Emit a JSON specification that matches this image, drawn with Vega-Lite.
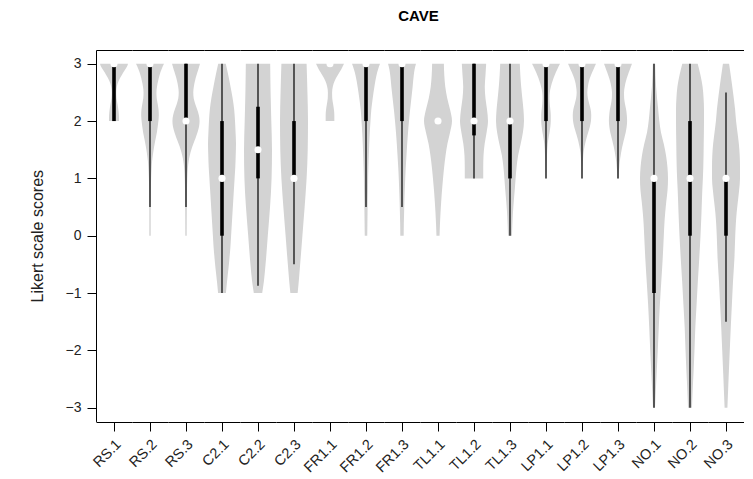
{
  "$schema": "https://vega.github.io/schema/vega-lite/v6.json",
  "padding": {"left": 29, "top": 9, "right": 0, "bottom": 0},
  "title": {"text": "CAVE", "font": "Liberation Sans", "fontSize": 15, "fontWeight": "bold", "color": "#000", "anchor": "middle", "offset": 26, "dx": 32},
  "config": {"view": {"stroke": null}, "font": "Liberation Sans"},
  "data": {"values": [
    {"item":"RS.1","score":3.0,"density":1.0},{"item":"RS.1","score":2.95,"density":0.93},{"item":"RS.1","score":2.9,"density":0.8},{"item":"RS.1","score":2.8,"density":0.55},{"item":"RS.1","score":2.7,"density":0.33},{"item":"RS.1","score":2.6,"density":0.2},{"item":"RS.1","score":2.5,"density":0.16},{"item":"RS.1","score":2.4,"density":0.18},{"item":"RS.1","score":2.3,"density":0.25},{"item":"RS.1","score":2.2,"density":0.31},{"item":"RS.1","score":2.1,"density":0.35},{"item":"RS.1","score":2.0,"density":0.36},
    {"item":"RS.2","score":3.0,"density":1.0},{"item":"RS.2","score":2.9,"density":0.82},{"item":"RS.2","score":2.8,"density":0.68},{"item":"RS.2","score":2.7,"density":0.58},{"item":"RS.2","score":2.6,"density":0.5},{"item":"RS.2","score":2.5,"density":0.46},{"item":"RS.2","score":2.4,"density":0.48},{"item":"RS.2","score":2.3,"density":0.55},{"item":"RS.2","score":2.2,"density":0.61},{"item":"RS.2","score":2.1,"density":0.63},{"item":"RS.2","score":2.0,"density":0.6},{"item":"RS.2","score":1.9,"density":0.55},{"item":"RS.2","score":1.8,"density":0.49},{"item":"RS.2","score":1.7,"density":0.41},{"item":"RS.2","score":1.6,"density":0.33},{"item":"RS.2","score":1.5,"density":0.26},{"item":"RS.2","score":1.4,"density":0.2},{"item":"RS.2","score":1.3,"density":0.15},{"item":"RS.2","score":1.2,"density":0.12},{"item":"RS.2","score":1.0,"density":0.08},{"item":"RS.2","score":0.8,"density":0.06},{"item":"RS.2","score":0.5,"density":0.05},{"item":"RS.2","score":0.0,"density":0.05},
    {"item":"RS.3","score":3.0,"density":1.0},{"item":"RS.3","score":2.9,"density":0.88},{"item":"RS.3","score":2.8,"density":0.75},{"item":"RS.3","score":2.7,"density":0.64},{"item":"RS.3","score":2.6,"density":0.56},{"item":"RS.3","score":2.5,"density":0.52},{"item":"RS.3","score":2.4,"density":0.55},{"item":"RS.3","score":2.3,"density":0.66},{"item":"RS.3","score":2.2,"density":0.8},{"item":"RS.3","score":2.1,"density":0.92},{"item":"RS.3","score":2.0,"density":0.97},{"item":"RS.3","score":1.9,"density":0.93},{"item":"RS.3","score":1.8,"density":0.82},{"item":"RS.3","score":1.7,"density":0.68},{"item":"RS.3","score":1.6,"density":0.52},{"item":"RS.3","score":1.5,"density":0.38},{"item":"RS.3","score":1.4,"density":0.27},{"item":"RS.3","score":1.3,"density":0.19},{"item":"RS.3","score":1.2,"density":0.14},{"item":"RS.3","score":1.0,"density":0.09},{"item":"RS.3","score":0.8,"density":0.07},{"item":"RS.3","score":0.5,"density":0.06},{"item":"RS.3","score":0.0,"density":0.05},
    {"item":"C2.1","score":3.0,"density":0.27},{"item":"C2.1","score":2.8,"density":0.45},{"item":"C2.1","score":2.6,"density":0.61},{"item":"C2.1","score":2.4,"density":0.76},{"item":"C2.1","score":2.2,"density":0.87},{"item":"C2.1","score":2.0,"density":0.93},{"item":"C2.1","score":1.8,"density":0.97},{"item":"C2.1","score":1.6,"density":1.0},{"item":"C2.1","score":1.4,"density":0.98},{"item":"C2.1","score":1.2,"density":0.95},{"item":"C2.1","score":1.0,"density":0.9},{"item":"C2.1","score":0.8,"density":0.85},{"item":"C2.1","score":0.6,"density":0.8},{"item":"C2.1","score":0.4,"density":0.75},{"item":"C2.1","score":0.2,"density":0.7},{"item":"C2.1","score":0.0,"density":0.65},{"item":"C2.1","score":-0.2,"density":0.6},{"item":"C2.1","score":-0.4,"density":0.53},{"item":"C2.1","score":-0.6,"density":0.45},{"item":"C2.1","score":-0.8,"density":0.36},{"item":"C2.1","score":-1.0,"density":0.28},
    {"item":"C2.2","score":3.0,"density":0.87},{"item":"C2.2","score":2.5,"density":0.9},{"item":"C2.2","score":2.0,"density":0.95},{"item":"C2.2","score":1.5,"density":1.0},{"item":"C2.2","score":1.0,"density":0.97},{"item":"C2.2","score":0.5,"density":0.86},{"item":"C2.2","score":0.0,"density":0.7},{"item":"C2.2","score":-0.5,"density":0.54},{"item":"C2.2","score":-0.8,"density":0.42},{"item":"C2.2","score":-1.0,"density":0.3},
    {"item":"C2.3","score":3.0,"density":0.9},{"item":"C2.3","score":2.5,"density":0.96},{"item":"C2.3","score":2.0,"density":1.0},{"item":"C2.3","score":1.5,"density":0.98},{"item":"C2.3","score":1.0,"density":0.9},{"item":"C2.3","score":0.5,"density":0.76},{"item":"C2.3","score":0.0,"density":0.6},{"item":"C2.3","score":-0.5,"density":0.44},{"item":"C2.3","score":-0.8,"density":0.34},{"item":"C2.3","score":-1.0,"density":0.26},
    {"item":"FR1.1","score":3.0,"density":1.0},{"item":"FR1.1","score":2.9,"density":0.8},{"item":"FR1.1","score":2.8,"density":0.55},{"item":"FR1.1","score":2.7,"density":0.33},{"item":"FR1.1","score":2.6,"density":0.2},{"item":"FR1.1","score":2.5,"density":0.15},{"item":"FR1.1","score":2.4,"density":0.16},{"item":"FR1.1","score":2.3,"density":0.22},{"item":"FR1.1","score":2.2,"density":0.28},{"item":"FR1.1","score":2.1,"density":0.31},{"item":"FR1.1","score":2.0,"density":0.31},
    {"item":"FR1.2","score":3.0,"density":1.0},{"item":"FR1.2","score":2.9,"density":0.86},{"item":"FR1.2","score":2.8,"density":0.75},{"item":"FR1.2","score":2.6,"density":0.6},{"item":"FR1.2","score":2.4,"density":0.48},{"item":"FR1.2","score":2.2,"density":0.38},{"item":"FR1.2","score":2.0,"density":0.32},{"item":"FR1.2","score":1.8,"density":0.27},{"item":"FR1.2","score":1.6,"density":0.23},{"item":"FR1.2","score":1.4,"density":0.2},{"item":"FR1.2","score":1.2,"density":0.17},{"item":"FR1.2","score":1.0,"density":0.15},{"item":"FR1.2","score":0.8,"density":0.14},{"item":"FR1.2","score":0.6,"density":0.12},{"item":"FR1.2","score":0.4,"density":0.11},{"item":"FR1.2","score":0.2,"density":0.1},{"item":"FR1.2","score":0.0,"density":0.09},
    {"item":"FR1.3","score":3.0,"density":1.0},{"item":"FR1.3","score":2.9,"density":0.9},{"item":"FR1.3","score":2.8,"density":0.84},{"item":"FR1.3","score":2.6,"density":0.76},{"item":"FR1.3","score":2.4,"density":0.67},{"item":"FR1.3","score":2.2,"density":0.58},{"item":"FR1.3","score":2.0,"density":0.5},{"item":"FR1.3","score":1.8,"density":0.43},{"item":"FR1.3","score":1.6,"density":0.37},{"item":"FR1.3","score":1.4,"density":0.32},{"item":"FR1.3","score":1.2,"density":0.27},{"item":"FR1.3","score":1.0,"density":0.23},{"item":"FR1.3","score":0.8,"density":0.2},{"item":"FR1.3","score":0.6,"density":0.17},{"item":"FR1.3","score":0.4,"density":0.15},{"item":"FR1.3","score":0.2,"density":0.13},{"item":"FR1.3","score":0.0,"density":0.12},
    {"item":"TL1.1","score":3.0,"density":0.42},{"item":"TL1.1","score":2.8,"density":0.45},{"item":"TL1.1","score":2.6,"density":0.52},{"item":"TL1.1","score":2.4,"density":0.66},{"item":"TL1.1","score":2.2,"density":0.86},{"item":"TL1.1","score":2.0,"density":1.0},{"item":"TL1.1","score":1.8,"density":0.86},{"item":"TL1.1","score":1.6,"density":0.67},{"item":"TL1.1","score":1.4,"density":0.54},{"item":"TL1.1","score":1.2,"density":0.44},{"item":"TL1.1","score":1.0,"density":0.36},{"item":"TL1.1","score":0.8,"density":0.29},{"item":"TL1.1","score":0.6,"density":0.23},{"item":"TL1.1","score":0.4,"density":0.18},{"item":"TL1.1","score":0.2,"density":0.14},{"item":"TL1.1","score":0.0,"density":0.11},
    {"item":"TL1.2","score":3.0,"density":0.87},{"item":"TL1.2","score":2.8,"density":0.82},{"item":"TL1.2","score":2.6,"density":0.77},{"item":"TL1.2","score":2.4,"density":0.82},{"item":"TL1.2","score":2.2,"density":0.93},{"item":"TL1.2","score":2.0,"density":1.0},{"item":"TL1.2","score":1.8,"density":0.9},{"item":"TL1.2","score":1.6,"density":0.76},{"item":"TL1.2","score":1.4,"density":0.68},{"item":"TL1.2","score":1.2,"density":0.66},{"item":"TL1.2","score":1.0,"density":0.66},
    {"item":"TL1.3","score":3.0,"density":0.7},{"item":"TL1.3","score":2.8,"density":0.74},{"item":"TL1.3","score":2.6,"density":0.8},{"item":"TL1.3","score":2.4,"density":0.88},{"item":"TL1.3","score":2.2,"density":0.96},{"item":"TL1.3","score":2.0,"density":1.0},{"item":"TL1.3","score":1.8,"density":0.92},{"item":"TL1.3","score":1.6,"density":0.76},{"item":"TL1.3","score":1.4,"density":0.58},{"item":"TL1.3","score":1.2,"density":0.47},{"item":"TL1.3","score":1.0,"density":0.4},{"item":"TL1.3","score":0.8,"density":0.34},{"item":"TL1.3","score":0.6,"density":0.27},{"item":"TL1.3","score":0.4,"density":0.21},{"item":"TL1.3","score":0.2,"density":0.17},{"item":"TL1.3","score":0.0,"density":0.14},
    {"item":"LP1.1","score":3.0,"density":1.0},{"item":"LP1.1","score":2.9,"density":0.8},{"item":"LP1.1","score":2.8,"density":0.62},{"item":"LP1.1","score":2.7,"density":0.47},{"item":"LP1.1","score":2.6,"density":0.35},{"item":"LP1.1","score":2.5,"density":0.27},{"item":"LP1.1","score":2.4,"density":0.25},{"item":"LP1.1","score":2.3,"density":0.27},{"item":"LP1.1","score":2.2,"density":0.31},{"item":"LP1.1","score":2.1,"density":0.34},{"item":"LP1.1","score":2.0,"density":0.34},{"item":"LP1.1","score":1.9,"density":0.31},{"item":"LP1.1","score":1.8,"density":0.25},{"item":"LP1.1","score":1.7,"density":0.18},{"item":"LP1.1","score":1.6,"density":0.12},{"item":"LP1.1","score":1.4,"density":0.07},{"item":"LP1.1","score":1.2,"density":0.05},{"item":"LP1.1","score":1.0,"density":0.04},
    {"item":"LP1.2","score":3.0,"density":1.0},{"item":"LP1.2","score":2.9,"density":0.82},{"item":"LP1.2","score":2.8,"density":0.64},{"item":"LP1.2","score":2.7,"density":0.5},{"item":"LP1.2","score":2.6,"density":0.42},{"item":"LP1.2","score":2.5,"density":0.38},{"item":"LP1.2","score":2.4,"density":0.42},{"item":"LP1.2","score":2.3,"density":0.52},{"item":"LP1.2","score":2.2,"density":0.62},{"item":"LP1.2","score":2.1,"density":0.66},{"item":"LP1.2","score":2.0,"density":0.64},{"item":"LP1.2","score":1.9,"density":0.56},{"item":"LP1.2","score":1.8,"density":0.44},{"item":"LP1.2","score":1.7,"density":0.32},{"item":"LP1.2","score":1.6,"density":0.22},{"item":"LP1.2","score":1.5,"density":0.14},{"item":"LP1.2","score":1.4,"density":0.09},{"item":"LP1.2","score":1.2,"density":0.05},{"item":"LP1.2","score":1.0,"density":0.04},
    {"item":"LP1.3","score":3.0,"density":1.0},{"item":"LP1.3","score":2.9,"density":0.85},{"item":"LP1.3","score":2.8,"density":0.7},{"item":"LP1.3","score":2.7,"density":0.57},{"item":"LP1.3","score":2.6,"density":0.48},{"item":"LP1.3","score":2.5,"density":0.43},{"item":"LP1.3","score":2.4,"density":0.44},{"item":"LP1.3","score":2.3,"density":0.5},{"item":"LP1.3","score":2.2,"density":0.58},{"item":"LP1.3","score":2.1,"density":0.63},{"item":"LP1.3","score":2.0,"density":0.65},{"item":"LP1.3","score":1.9,"density":0.62},{"item":"LP1.3","score":1.8,"density":0.55},{"item":"LP1.3","score":1.7,"density":0.45},{"item":"LP1.3","score":1.6,"density":0.35},{"item":"LP1.3","score":1.5,"density":0.26},{"item":"LP1.3","score":1.4,"density":0.19},{"item":"LP1.3","score":1.3,"density":0.13},{"item":"LP1.3","score":1.2,"density":0.09},{"item":"LP1.3","score":1.1,"density":0.06},{"item":"LP1.3","score":1.0,"density":0.05},
    {"item":"NO.1","score":3.0,"density":0.08},{"item":"NO.1","score":2.6,"density":0.15},{"item":"NO.1","score":2.2,"density":0.3},{"item":"NO.1","score":2.0,"density":0.38},{"item":"NO.1","score":1.8,"density":0.5},{"item":"NO.1","score":1.6,"density":0.7},{"item":"NO.1","score":1.4,"density":0.86},{"item":"NO.1","score":1.2,"density":0.96},{"item":"NO.1","score":1.0,"density":1.0},{"item":"NO.1","score":0.8,"density":0.97},{"item":"NO.1","score":0.6,"density":0.88},{"item":"NO.1","score":0.4,"density":0.8},{"item":"NO.1","score":0.2,"density":0.74},{"item":"NO.1","score":0.0,"density":0.7},{"item":"NO.1","score":-0.4,"density":0.62},{"item":"NO.1","score":-0.8,"density":0.52},{"item":"NO.1","score":-1.2,"density":0.42},{"item":"NO.1","score":-1.6,"density":0.34},{"item":"NO.1","score":-2.0,"density":0.27},{"item":"NO.1","score":-2.4,"density":0.19},{"item":"NO.1","score":-2.7,"density":0.13},{"item":"NO.1","score":-3.0,"density":0.07},
    {"item":"NO.2","score":3.0,"density":0.55},{"item":"NO.2","score":2.8,"density":0.75},{"item":"NO.2","score":2.6,"density":0.9},{"item":"NO.2","score":2.4,"density":0.97},{"item":"NO.2","score":2.2,"density":1.0},{"item":"NO.2","score":2.0,"density":1.0},{"item":"NO.2","score":1.6,"density":0.98},{"item":"NO.2","score":1.2,"density":0.95},{"item":"NO.2","score":1.0,"density":0.92},{"item":"NO.2","score":0.8,"density":0.88},{"item":"NO.2","score":0.4,"density":0.82},{"item":"NO.2","score":0.0,"density":0.75},{"item":"NO.2","score":-0.4,"density":0.66},{"item":"NO.2","score":-0.8,"density":0.56},{"item":"NO.2","score":-1.2,"density":0.47},{"item":"NO.2","score":-1.6,"density":0.38},{"item":"NO.2","score":-2.0,"density":0.32},{"item":"NO.2","score":-2.4,"density":0.25},{"item":"NO.2","score":-2.7,"density":0.19},{"item":"NO.2","score":-3.0,"density":0.14},
    {"item":"NO.3","score":3.0,"density":0.22},{"item":"NO.3","score":2.6,"density":0.45},{"item":"NO.3","score":2.2,"density":0.65},{"item":"NO.3","score":2.0,"density":0.72},{"item":"NO.3","score":1.8,"density":0.82},{"item":"NO.3","score":1.6,"density":0.92},{"item":"NO.3","score":1.4,"density":0.98},{"item":"NO.3","score":1.2,"density":1.0},{"item":"NO.3","score":1.0,"density":1.0},{"item":"NO.3","score":0.8,"density":0.94},{"item":"NO.3","score":0.6,"density":0.85},{"item":"NO.3","score":0.4,"density":0.76},{"item":"NO.3","score":0.2,"density":0.7},{"item":"NO.3","score":0.0,"density":0.66},{"item":"NO.3","score":-0.4,"density":0.6},{"item":"NO.3","score":-0.8,"density":0.5},{"item":"NO.3","score":-1.2,"density":0.42},{"item":"NO.3","score":-1.6,"density":0.34},{"item":"NO.3","score":-2.0,"density":0.27},{"item":"NO.3","score":-2.4,"density":0.2},{"item":"NO.3","score":-2.7,"density":0.15},{"item":"NO.3","score":-3.0,"density":0.1},
    {"item":"RS.1","lo":2,"q1":2,"med":3,"q3":3,"hi":3},
    {"item":"RS.2","lo":0.5,"q1":2,"med":3,"q3":3,"hi":3},
    {"item":"RS.3","lo":0.5,"q1":2,"med":2,"q3":3,"hi":3},
    {"item":"C2.1","lo":-1,"q1":0,"med":1,"q3":2,"hi":3},
    {"item":"C2.2","lo":-0.875,"q1":1,"med":1.5,"q3":2.25,"hi":3},
    {"item":"C2.3","lo":-0.5,"q1":1,"med":1,"q3":2,"hi":3},
    {"item":"FR1.1","lo":3,"q1":3,"med":3,"q3":3,"hi":3},
    {"item":"FR1.2","lo":0.5,"q1":2,"med":3,"q3":3,"hi":3},
    {"item":"FR1.3","lo":0.5,"q1":2,"med":3,"q3":3,"hi":3},
    {"item":"TL1.1","lo":2,"q1":2,"med":2,"q3":2,"hi":2},
    {"item":"TL1.2","lo":1,"q1":1.75,"med":2,"q3":3,"hi":3},
    {"item":"TL1.3","lo":0,"q1":1,"med":2,"q3":2,"hi":3},
    {"item":"LP1.1","lo":1,"q1":2,"med":3,"q3":3,"hi":3},
    {"item":"LP1.2","lo":1,"q1":2,"med":3,"q3":3,"hi":3},
    {"item":"LP1.3","lo":1,"q1":2,"med":3,"q3":3,"hi":3},
    {"item":"NO.1","lo":-3,"q1":-1,"med":1,"q3":1,"hi":3},
    {"item":"NO.2","lo":-3,"q1":0,"med":1,"q3":2,"hi":3},
    {"item":"NO.3","lo":-1.5,"q1":0,"med":1,"q3":1,"hi":2.5}
  ]},
  "spacing": 0,
  "facet": {"column": {"field": "item", "type": "nominal", "title": null,
    "sort": ["RS.1","RS.2","RS.3","C2.1","C2.2","C2.3","FR1.1","FR1.2","FR1.3","TL1.1","TL1.2","TL1.3","LP1.1","LP1.2","LP1.3","NO.1","NO.2","NO.3"],
    "header": {"labelOrient": "bottom", "labelAngle": -45, "labelAlign": "right", "labelBaseline": "top", "labelFont": "Liberation Sans", "labelFontSize": 14.5, "labelColor": "#222", "labelPadding": 6}}},
  "spec": {
    "width": 36,
    "height": 371.4,
    "resolve": {"axis": {"x": "independent", "y": "independent"}},
    "layer": [
      {
        "transform": [{"filter": "isValid(datum.density)"}],
        "mark": {"type": "area", "orient": "horizontal", "interpolate": "monotone", "color": "#d3d3d3", "opacity": 1},
        "encoding": {
          "y": {"field": "score", "type": "quantitative", "scale": {"domain": [-3.24, 3.24], "nice": false, "zero": false},
            "axis": {"values": [-3,-2,-1,0,1,2,3], "title": "Likert scale scores", "domain": true, "domainWidth": 1, "tickSize": 9, "labelPadding": 6, "grid": false, "domainColor": "#000", "tickColor": "#000", "labelColor": "#222", "labelFont": "Liberation Sans", "labelFontSize": 14, "titleFont": "Liberation Sans", "titleFontSize": 16, "titleFontWeight": "normal", "titleColor": "#222", "titlePadding": 20}},
          "x": {"field": "density", "type": "quantitative", "stack": "center", "impute": null,
            "scale": {"domain": [-0.143, 1.143], "nice": false, "zero": false},
            "axis": {"values": [0.5], "labels": false, "ticks": true, "tickSize": 9, "title": null, "grid": false, "domainColor": "#000", "tickColor": "#000"}}
        }
      },
      {
        "transform": [{"filter": "isValid(datum.med)"}],
        "mark": {"type": "rule", "color": "#000", "strokeWidth": 1.2},
        "encoding": {
          "y": {"field": "lo", "type": "quantitative", "scale": {"domain": [-3.24, 3.24], "nice": false, "zero": false}, "axis": null},
          "y2": {"field": "hi"}
        }
      },
      {
        "transform": [{"filter": "isValid(datum.med)"}],
        "mark": {"type": "rule", "color": "#000", "strokeWidth": 3.6, "strokeCap": "butt"},
        "encoding": {
          "y": {"field": "q1", "type": "quantitative", "scale": {"domain": [-3.24, 3.24], "nice": false, "zero": false}, "axis": null},
          "y2": {"field": "q3"}
        }
      },
      {
        "transform": [{"filter": "isValid(datum.med)"}],
        "mark": {"type": "point", "filled": true, "color": "#ffffff", "size": 50, "opacity": 1, "strokeWidth": 0},
        "encoding": {
          "y": {"field": "med", "type": "quantitative", "scale": {"domain": [-3.24, 3.24], "nice": false, "zero": false},
            "axis": {"orient": "right", "domain": true, "domainWidth": 1, "ticks": false, "labels": false, "title": null, "grid": false, "domainColor": "#000"}},
          "x": {"datum": 0.5, "type": "quantitative", "scale": {"domain": [-0.143, 1.143], "nice": false, "zero": false},
            "axis": {"orient": "top", "ticks": false, "labels": false, "title": null, "grid": false, "domainColor": "#000"}}
        }
      }
    ]
  }
}
